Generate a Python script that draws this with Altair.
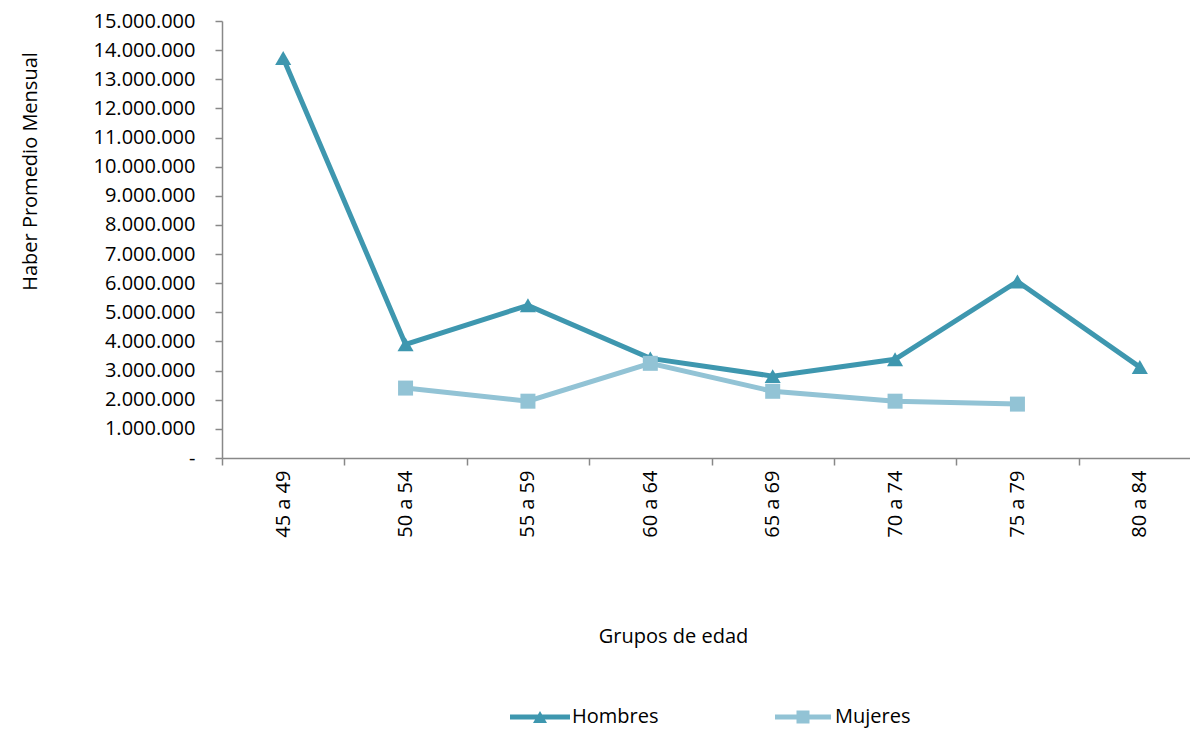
import altair as alt
import pandas as pd

categorias = ["45 a 49", "50 a 54", "55 a 59", "60 a 64", "65 a 69", "70 a 74", "75 a 79", "80 a 84"]
hombres = [13730000, 3900000, 5240000, 3420000, 2810000, 3390000, 6060000, 3120000]
mujeres = [None, 2400000, 1950000, 3250000, 2290000, 1950000, 1850000, None]
y_ticks = list(range(0, 15000001, 1000000))
series = ["Hombres", "Mujeres"]
colores = ["#3E97AF", "#92C3D5"]

rows = []
for c, h, m in zip(categorias, hombres, mujeres):
    if h is not None:
        rows.append({"grupo": c, "serie": "Hombres", "valor": h})
    if m is not None:
        rows.append({"grupo": c, "serie": "Mujeres", "valor": m})
df = pd.DataFrame(rows)

FONT = "Open Sans"
FS = 20

x_enc = alt.X(
    "grupo:N",
    sort=categorias,
    scale=alt.Scale(type="band", domain=categorias, paddingInner=0, paddingOuter=0, range=[0, 979]),
    axis=alt.Axis(
        title="Grupos de edad",
        titleFont=FONT, titleFontSize=FS, titleFontWeight="normal", titleColor="#000000",
        titleX=451, titleY=178, titleBaseline="middle", titleAlign="center",
        labelAngle=270, labelFont=FONT, labelFontSize=FS, labelColor="#000000",
        labelPadding=5, tickBand="extent",
        domainColor="#888888", domainWidth=1.5, tickColor="#888888", tickWidth=1.5, tickSize=7,
        grid=False,
    ),
)
y_enc = alt.Y(
    "valor:Q",
    scale=alt.Scale(domain=[0, 15000000], nice=False),
    axis=alt.Axis(
        title="Haber Promedio Mensual",
        titleFont=FONT, titleFontSize=FS, titleFontWeight="normal", titleColor="#000000",
        titleX=-192, titleY=150, titleAngle=270, titleAlign="center", titleBaseline="middle",
        values=y_ticks, format=",.0f",
        labelExpr="datum.value == 0 ? '-' : datum.label",
        labelFont=FONT, labelFontSize=FS, labelColor="#000000", labelPadding=20,
        domainColor="#888888", domainWidth=1.5, tickColor="#888888", tickWidth=1.5, tickSize=7,
        grid=False,
    ),
)

base = alt.Chart(df)

def line_layer(s, col):
    return base.transform_filter(alt.datum.serie == s).mark_line(strokeWidth=5, color=col).encode(
        x=x_enc, y=y_enc
    )

def point_layer(s, col, shape, size):
    return base.transform_filter(alt.datum.serie == s).mark_point(
        filled=True, opacity=1, shape=shape, size=size, color=col
    ).encode(x=x_enc, y=y_enc)

legend_paths = [
    "M-3,-0.25L3,-0.25L3,0.25L-3,0.25Z M0,-0.6L0.7,0.6L-0.7,0.6Z",
    "M-2.8,-0.25L2.8,-0.25L2.8,0.25L-2.8,0.25Z M-0.65,-0.65L0.65,-0.65L0.65,0.65L-0.65,0.65Z",
]

legend_layer = base.transform_filter(alt.datum.valor < 0).mark_point(
    filled=True, opacity=1, size=400
).encode(
    x=x_enc, y=y_enc,
    color=alt.Color("serie:N", scale=alt.Scale(domain=series, range=colores), legend=alt.Legend(
        title=None, orient="none", legendX=308, legendY=686, direction="horizontal",
        labelFont=FONT, labelFontSize=FS, labelColor="#000000", labelOffset=22,
        columnPadding=116, symbolSize=400, symbolOpacity=1, symbolStrokeWidth=0,
        padding=0,
    )),
    shape=alt.Shape("serie:N", scale=alt.Scale(domain=series, range=legend_paths)),
)

chart = alt.layer(
    line_layer("Hombres", colores[0]),
    point_layer("Hombres", colores[0], "triangle-up", 260),
    line_layer("Mujeres", colores[1]),
    point_layer("Mujeres", colores[1], "square", 225),
    legend_layer,
).properties(
    width=968, height=437,
    padding={"left": 214, "top": 13, "right": 0, "bottom": 273},
    autosize=alt.AutoSizeParams(type="none"),
).configure(
    locale={"number": {"decimal": ",", "thousands": ".", "grouping": [3], "currency": ["$", ""]}}
).configure_view(stroke=None)

chart.save("out.html", embed_options={"renderer": "svg", "actions": False})
